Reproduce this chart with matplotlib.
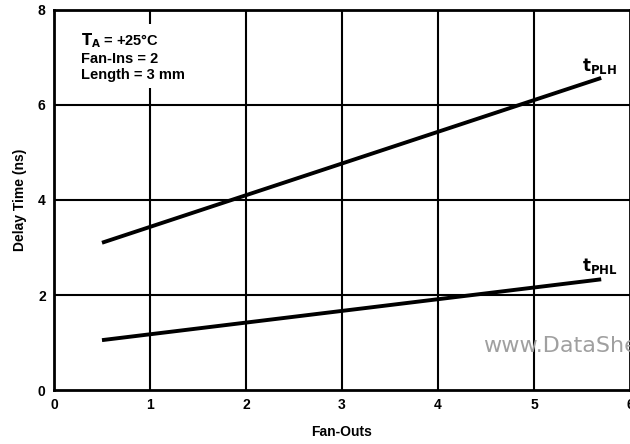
import matplotlib
matplotlib.use("Agg")
import matplotlib.pyplot as plt

plt.rcParams['font.family'] = ['Liberation Sans', 'DejaVu Sans']

fan_outs = [0.5, 5.7]
t_plh = [3.1, 6.57]
t_phl = [1.05, 2.33]
x_ticks = [0, 1, 2, 3, 4, 5, 6]
y_ticks = [0, 2, 4, 6, 8]

fig = plt.figure(figsize=(6.3, 4.44), dpi=100)
ax = fig.add_axes([0.0857, 0.1216, 0.9143, 0.8559])
ax.set_xlim(0, 5.98)
ax.set_ylim(0, 8)

for x in [1, 2, 3, 4, 5]:
    ax.axvline(x, color='black', lw=1.5, zorder=1)
for y in [2, 4, 6]:
    ax.axhline(y, color='black', lw=1.5, zorder=1)

ax.plot(fan_outs, t_plh, color='black', lw=2.8, solid_capstyle='butt', zorder=3)
ax.plot(fan_outs, t_phl, color='black', lw=2.8, solid_capstyle='butt', zorder=3)

for s in ax.spines.values():
    s.set_linewidth(2)
ax.tick_params(length=0, pad=6)
ax.set_xticks(x_ticks)
ax.set_yticks(y_ticks)
ax.set_xticklabels([str(v) for v in x_ticks], fontweight='bold', fontsize=10)
ax.set_yticklabels([str(v) for v in y_ticks], fontweight='bold', fontsize=10)

ax.set_xlabel('Fan-Outs', fontweight='bold', fontsize=10, labelpad=9)
ax.set_ylabel('Delay Time (ns)', fontweight='bold', fontsize=10, labelpad=8)

ax.text(0.28, 7.56, '$\\mathbf{T_A}$ = +25°C\nFan-Ins = 2\nLength = 3 mm',
        fontsize=10.5, fontweight='bold', linespacing=1.2, va='top', ha='left',
        bbox=dict(facecolor='white', edgecolor='none', pad=4), zorder=2)

ax.text(5.5, 6.62, '$\\mathbf{t_{PLH}}$', fontsize=12, ha='left', va='bottom', zorder=4)
ax.text(5.5, 2.4, '$\\mathbf{t_{PHL}}$', fontsize=12, ha='left', va='bottom', zorder=4)

ax.text(4.47, 0.72, 'www.DataSheet4U.com', fontsize=16, color='#a0a0a0', ha='left', va='bottom',
        family='DejaVu Sans', zorder=5, clip_on=True)

fig.savefig('out.png', dpi=100)
